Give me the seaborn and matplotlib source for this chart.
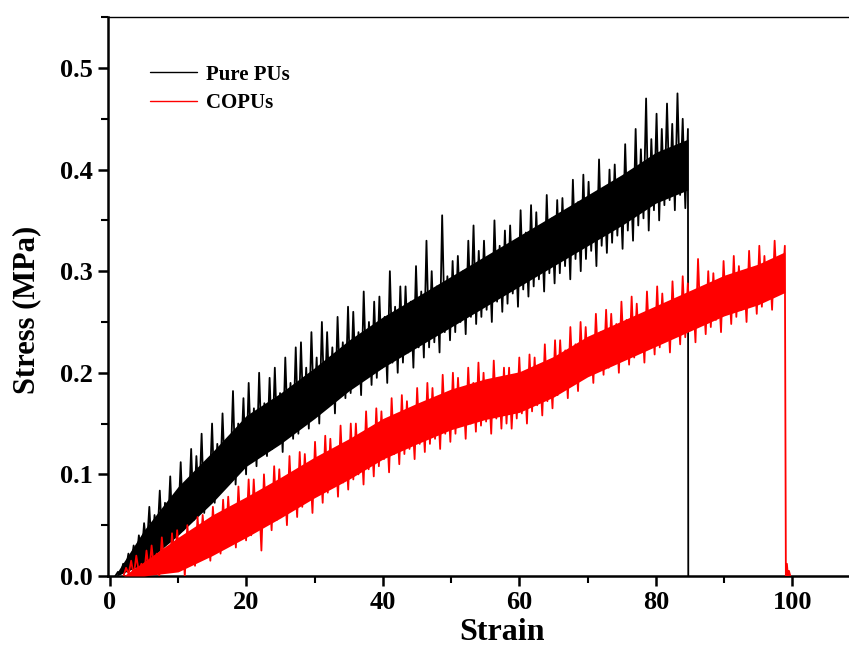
import numpy as np
import pandas as pd
import matplotlib
matplotlib.use("Agg")
import matplotlib.pyplot as plt
from matplotlib.ticker import MultipleLocator
import seaborn as sns

pure_start, pure_end = 0.8, 84.7
pure_stress = [
    0.000, 0.004, 0.002, 0.012, 0.006, 0.022, 0.010, 0.030, 0.014, 0.040,
    0.018, 0.052, 0.026, 0.068, 0.020, 0.060, 0.034, 0.084, 0.030, 0.072,
    0.040, 0.098, 0.034, 0.080, 0.050, 0.112, 0.045, 0.090, 0.060, 0.125,
    0.055, 0.118, 0.070, 0.140, 0.062, 0.105, 0.080, 0.150, 0.072, 0.130,
    0.085, 0.160, 0.092, 0.135, 0.100, 0.182, 0.090, 0.150, 0.110, 0.175,
    0.100, 0.190, 0.115, 0.165, 0.108, 0.200, 0.125, 0.170, 0.118, 0.195,
    0.125, 0.205, 0.130, 0.180, 0.122, 0.215, 0.140, 0.190, 0.135, 0.225,
    0.140, 0.230, 0.150, 0.205, 0.145, 0.240, 0.160, 0.215, 0.150, 0.250,
    0.165, 0.240, 0.170, 0.225, 0.160, 0.255, 0.180, 0.230, 0.175, 0.265,
    0.180, 0.260, 0.190, 0.240, 0.178, 0.280, 0.195, 0.250, 0.188, 0.270,
    0.195, 0.275, 0.205, 0.255, 0.190, 0.300, 0.210, 0.265, 0.200, 0.285,
    0.210, 0.285, 0.220, 0.270, 0.205, 0.305, 0.225, 0.280, 0.215, 0.330,
    0.225, 0.300, 0.230, 0.285, 0.220, 0.355, 0.240, 0.295, 0.232, 0.310,
    0.240, 0.315, 0.250, 0.300, 0.238, 0.330, 0.255, 0.345, 0.248, 0.320,
    0.255, 0.330, 0.262, 0.315, 0.250, 0.350, 0.270, 0.325, 0.260, 0.340,
    0.268, 0.345, 0.278, 0.330, 0.265, 0.360, 0.282, 0.338, 0.275, 0.365,
    0.285, 0.358, 0.292, 0.345, 0.280, 0.375, 0.298, 0.352, 0.288, 0.370,
    0.298, 0.372, 0.305, 0.360, 0.292, 0.390, 0.312, 0.368, 0.300, 0.395,
    0.312, 0.388, 0.320, 0.375, 0.305, 0.410, 0.325, 0.382, 0.318, 0.400,
    0.328, 0.405, 0.335, 0.390, 0.322, 0.425, 0.340, 0.398, 0.330, 0.440,
    0.345, 0.420, 0.352, 0.470, 0.340, 0.430, 0.360, 0.455, 0.350, 0.440,
    0.365, 0.465, 0.370, 0.445, 0.360, 0.475, 0.375, 0.450, 0.362, 0.440,
]
pure_tail_strain = [84.75]
pure_tail_stress = [0.0]

# dense core of the black trace
pure_core_strain = [1, 5, 10, 15, 20, 25, 30, 35, 40, 45, 50, 55, 60, 65, 70, 75, 80, 84.7]
pure_core_low = [0.0, 0.012, 0.04, 0.072, 0.108, 0.13, 0.155, 0.182, 0.205, 0.225, 0.245, 0.265,
                 0.285, 0.305, 0.325, 0.345, 0.367, 0.38]
pure_core_high = [0.003, 0.045, 0.088, 0.122, 0.158, 0.18, 0.205, 0.232, 0.255, 0.275, 0.295, 0.315,
                  0.335, 0.355, 0.375, 0.395, 0.417, 0.43]

copu_start, copu_end = 2.0, 98.9
copu_stress = [
    0.000, 0.008, 0.002, 0.015, 0.000, 0.020, 0.004, 0.012, 0.000, 0.025,
    0.003, 0.030, 0.006, 0.022, 0.000, 0.038, 0.010, 0.028, 0.004, 0.042,
    0.008, 0.045, 0.012, 0.035, 0.000, 0.050, 0.018, 0.040, 0.010, 0.058,
    0.020, 0.060, 0.025, 0.048, 0.015, 0.068, 0.030, 0.055, 0.022, 0.075,
    0.030, 0.078, 0.038, 0.065, 0.028, 0.088, 0.042, 0.070, 0.035, 0.095,
    0.040, 0.095, 0.048, 0.080, 0.025, 0.100, 0.052, 0.088, 0.045, 0.108,
    0.055, 0.105, 0.060, 0.095, 0.050, 0.118, 0.065, 0.100, 0.058, 0.122,
    0.068, 0.120, 0.075, 0.110, 0.062, 0.132, 0.080, 0.115, 0.072, 0.138,
    0.082, 0.135, 0.088, 0.125, 0.078, 0.148, 0.092, 0.130, 0.085, 0.150,
    0.095, 0.150, 0.100, 0.140, 0.090, 0.162, 0.105, 0.145, 0.098, 0.165,
    0.108, 0.162, 0.115, 0.152, 0.102, 0.175, 0.120, 0.158, 0.110, 0.178,
    0.120, 0.172, 0.125, 0.162, 0.115, 0.185, 0.130, 0.168, 0.122, 0.190,
    0.130, 0.185, 0.135, 0.175, 0.125, 0.198, 0.140, 0.180, 0.132, 0.200,
    0.140, 0.195, 0.148, 0.185, 0.135, 0.205, 0.150, 0.190, 0.142, 0.210,
    0.148, 0.200, 0.152, 0.190, 0.140, 0.212, 0.155, 0.195, 0.145, 0.205,
    0.150, 0.205, 0.145, 0.195, 0.155, 0.215, 0.160, 0.200, 0.150, 0.218,
    0.162, 0.215, 0.168, 0.205, 0.158, 0.228, 0.172, 0.210, 0.165, 0.232,
    0.178, 0.232, 0.185, 0.222, 0.175, 0.245, 0.190, 0.228, 0.182, 0.250,
    0.195, 0.245, 0.200, 0.235, 0.190, 0.258, 0.205, 0.240, 0.198, 0.262,
    0.205, 0.258, 0.212, 0.248, 0.200, 0.270, 0.218, 0.252, 0.208, 0.275,
    0.215, 0.268, 0.222, 0.258, 0.210, 0.280, 0.228, 0.262, 0.218, 0.285,
    0.225, 0.278, 0.232, 0.268, 0.220, 0.290, 0.238, 0.272, 0.228, 0.295,
    0.235, 0.288, 0.242, 0.278, 0.230, 0.312, 0.248, 0.282, 0.238, 0.300,
    0.245, 0.298, 0.252, 0.288, 0.240, 0.310, 0.258, 0.292, 0.248, 0.315,
    0.255, 0.305, 0.262, 0.298, 0.250, 0.320, 0.268, 0.302, 0.258, 0.325,
    0.265, 0.315, 0.272, 0.308, 0.262, 0.330, 0.278, 0.312, 0.285, 0.325,
]
copu_tail_strain = [99.05, 99.2, 99.35, 99.5, 99.7]
copu_tail_stress = [0.0, 0.012, 0.0, 0.005, 0.0]

# dense core of the red trace
copu_core_strain = [2, 5, 10, 15, 20, 25, 30, 35, 40, 45, 50, 55, 60, 65, 70, 75, 80, 85, 90, 95, 98.9]
copu_core_low = [0.0, 0.0, 0.004, 0.02, 0.038, 0.057, 0.077, 0.095, 0.115, 0.13, 0.144, 0.154,
                 0.161, 0.176, 0.196, 0.211, 0.226, 0.241, 0.256, 0.267, 0.279]
copu_core_high = [0.0, 0.014, 0.038, 0.06, 0.078, 0.097, 0.117, 0.135, 0.155, 0.17, 0.184, 0.194,
                  0.201, 0.216, 0.236, 0.251, 0.266, 0.281, 0.296, 0.307, 0.319]

labels = ["Pure PUs", "COPUs"]
colors = ["black", "#ff0000"]

pure_strain = np.concatenate([np.linspace(pure_start, pure_end, len(pure_stress)), pure_tail_strain])
copu_strain = np.concatenate([np.linspace(copu_start, copu_end, len(copu_stress)), copu_tail_strain])

df = pd.concat([
    pd.DataFrame({"Strain": pure_strain, "Stress": pure_stress + pure_tail_stress, "Sample": labels[0]}),
    pd.DataFrame({"Strain": copu_strain, "Stress": copu_stress + copu_tail_stress, "Sample": labels[1]}),
], ignore_index=True)
cores = {
    labels[0]: (pure_core_strain, pure_core_low, pure_core_high),
    labels[1]: (copu_core_strain, copu_core_low, copu_core_high),
}

sns.set_style("ticks")
plt.rcParams["font.family"] = ["Liberation Serif", "DejaVu Serif"]
plt.rcParams["font.weight"] = "bold"
plt.rcParams["text.color"] = "black"
plt.rcParams["axes.labelcolor"] = "black"
plt.rcParams["axes.edgecolor"] = "black"
plt.rcParams["xtick.color"] = "black"
plt.rcParams["ytick.color"] = "black"

fig = plt.figure(figsize=(8.49, 6.62), dpi=100)
ax = fig.add_axes([0.127, 0.13, 0.873, 0.844])

for i, (name, col) in enumerate(zip(labels, colors)):
    cx, lo, hi = cores[name]
    ax.fill_between(cx, lo, hi, color=col, lw=0, zorder=2 + 2 * i)
    sub = df[df["Sample"] == name]
    sns.lineplot(data=sub, x="Strain", y="Stress", color=col, lw=1.3,
                 estimator=None, sort=False, label=name, ax=ax, zorder=3 + 2 * i)

ax.set_xlim(-0.3, 108.3)
ax.set_ylim(0, 0.55)
ax.xaxis.set_major_locator(MultipleLocator(20))
ax.xaxis.set_minor_locator(MultipleLocator(10))
ax.yaxis.set_major_locator(MultipleLocator(0.1))
ax.yaxis.set_minor_locator(MultipleLocator(0.05))
ax.tick_params(which="major", direction="out", length=7, width=1.8, labelsize=19)
ax.tick_params(which="minor", direction="out", length=5, width=1.5)
for lab in ax.get_xticklabels() + ax.get_yticklabels():
    lab.set_fontweight("bold")
ax.spines["right"].set_visible(False)
ax.spines["left"].set_linewidth(1.8)
ax.spines["bottom"].set_linewidth(1.8)
ax.spines["top"].set_linewidth(1.0)

ax.set_xlabel("Strain", fontsize=23, fontweight="bold")
ax.set_ylabel("Stress (MPa)", fontsize=22, fontweight="bold")
ax.xaxis.set_label_coords((502 - 108) / 741, -0.075)
ax.yaxis.set_label_coords(-0.09, (576 - 310) / 559)

leg = ax.legend(loc="upper left", bbox_to_anchor=(0.045, 0.93), frameon=False,
                prop={"size": 15, "weight": "bold"}, handlelength=2.3,
                handletextpad=0.4, labelspacing=0.4, borderaxespad=0)
for line in leg.get_lines():
    line.set_linewidth(1.0)

fig.savefig("out.png", dpi=100)
